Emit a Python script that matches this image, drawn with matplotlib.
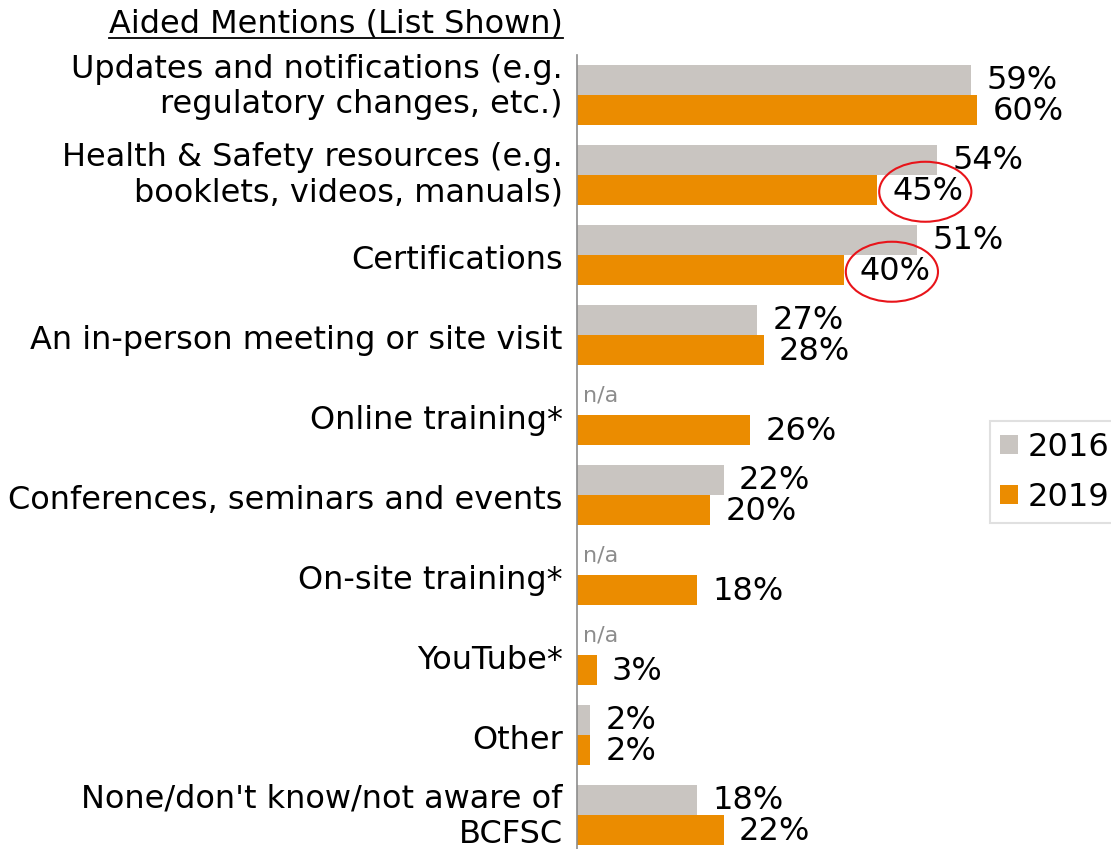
import numpy as np
import matplotlib.pyplot as plt
from matplotlib.patches import Ellipse

categories = ["Updates and notifications (e.g.\nregulatory changes, etc.)",
              "Health & Safety resources (e.g.\nbooklets, videos, manuals)",
              "Certifications",
              "An in-person meeting or site visit",
              "Online training*",
              "Conferences, seminars and events",
              "On-site training*",
              "YouTube*",
              "Other",
              "None/don't know/not aware of\nBCFSC"]
vals_2016 = [59, 54, 51, 27, None, 22, None, None, 2, 18]
vals_2019 = [60, 45, 40, 28, 26, 20, 18, 3, 2, 22]
circled = [1, 2]  # rows whose 2019 value is circled in red

gray = '#c9c5c1'
orange = '#eb8c00'
fs = 23

fig = plt.figure(figsize=(11.11, 8.49), dpi=100)
ax = fig.add_axes([0.519, 0.0, 0.481, 0.935])

y = np.arange(len(categories))
h = 0.375

for i in range(len(categories)):
    v16 = vals_2016[i]
    v19 = vals_2019[i]
    if v16 is None:
        ax.text(1.0, y[i] - h / 2 - 0.06, "n/a", color='#8c8c8c', fontsize=16,
                ha='left', va='center')
    else:
        ax.barh(y[i] - h / 2, v16, height=h, color=gray)
        ax.annotate(f"{v16}%", (v16, y[i] - h / 2), xytext=(11, 0),
                    textcoords='offset points', va='center', ha='left', fontsize=fs)
    ax.barh(y[i] + h / 2, v19, height=h, color=orange)
    ax.annotate(f"{v19}%", (v19, y[i] + h / 2 + 0.02), xytext=(11, 0),
                textcoords='offset points', va='center', ha='left', fontsize=fs)

ax.set_xlim(0, 80)
ax.set_ylim(9.425, -0.5)
ax.set_yticks([])
ax.set_xticks([])
for s in ['top', 'right', 'bottom']:
    ax.spines[s].set_visible(False)
ax.spines['left'].set_color('#8c8c8c')
ax.spines['left'].set_linewidth(1.2)

# category labels, drawn by hand so each one can sit like the original
for i, lab in enumerate(categories):
    if i == 0:
        dy = 6
    elif i == 1:
        dy = 0
    elif i == len(categories) - 1:
        dy = -1.3
    else:
        dy = -3.6
    ax.annotate(lab, (0, y[i]), xytext=(-10, dy), textcoords='offset points',
                ha='right', va='center', fontsize=fs, linespacing=1.18,
                annotation_clip=False)

# red circles around the dropped 2019 values
for i in circled:
    v = vals_2019[i]
    ax.add_patch(Ellipse((v + 7.2, y[i] + h / 2 + 0.02), width=13.8, height=0.75,
                         fill=False, edgecolor='#e8141a', linewidth=1.5, clip_on=False))

ax.barh([0], [0], color=gray, label='2016')
ax.barh([0], [0], color=orange, label='2019')
leg = fig.legend(loc='upper left', bbox_to_anchor=(0.891, 0.504), fontsize=fs,
                 frameon=True, fancybox=False, edgecolor='#d9d9d9',
                 handlelength=0.56, handleheight=0.56, handletextpad=0.28,
                 borderpad=0.33, labelspacing=0.6, borderaxespad=0)
leg.get_frame().set_linewidth(1.5)

title = fig.text(0.507, 0.972, "Aided Mentions (List Shown)", fontsize=fs,
                 ha='right', va='center')
fig.canvas.draw()
bb = title.get_window_extent().transformed(fig.transFigure.inverted())
fig.add_artist(plt.Line2D([bb.x0, bb.x1], [bb.y0 + 0.001, bb.y0 + 0.001],
                          color='black', linewidth=1.3, transform=fig.transFigure))

fig.savefig('out.png', dpi=100)
